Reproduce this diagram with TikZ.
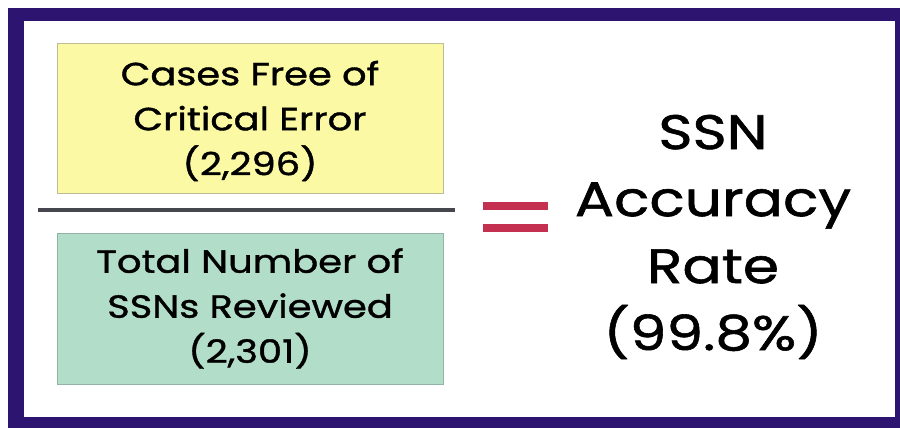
\documentclass[tikz,border=0pt]{standalone}
\usepackage{fontspec}
\setmainfont{Poppins}[FakeStretch=1.2, FakeBold=1.2]
\definecolor{framepurple}{HTML}{2D1470}
\definecolor{boxyellow}{HTML}{FBF9A3}
\definecolor{boxyellowedge}{HTML}{BDBC94}
\definecolor{boxgreen}{HTML}{B2DDC8}
\definecolor{boxgreenedge}{HTML}{93B3A4}
\definecolor{barline}{HTML}{46464F}
\definecolor{eqred}{HTML}{C4304F}
\tikzset{
  databox/.style={draw, line width=0.8pt, minimum width=386pt, inner sep=0pt},
  boxtext/.style={align=center, inner sep=0pt, font=\fontsize{32}{45}\selectfont},
  ratetext/.style={align=center, inner sep=0pt, font=\fontsize{48.5}{67}\selectfont}
}
\begin{document}
\begin{tikzpicture}[x=1pt,y=-1pt]
\useasboundingbox (0,0) rectangle (900,428);
\fill[white] (0,0) rectangle (900,428);
\fill[framepurple] (8,8) rectangle (900,428);
\fill[white] (24,21) rectangle (895,417);
% numerator
\node[databox, fill=boxyellow, draw=boxyellowedge, minimum height=150pt] (num) at (250,118) {};
\node[boxtext] (numtext) at ([yshift=-3pt]num.center) {Cases Free of\\Critical Error\\(2,296)};
% denominator
\node[databox, fill=boxgreen, draw=boxgreenedge, minimum height=151pt] (den) at (250,308.5) {};
\node[boxtext] (dentext) at (den.center) {Total Number of\\SSNs Reviewed\\(2,301)};
% fraction bar
\coordinate (barL) at (38,210);
\coordinate (barR) at (455,210);
\draw[barline, line width=4pt] (barL) -- (barR);
% equals sign
\fill[eqred] (483,202) rectangle (548,210);
\fill[eqred] (483,224) rectangle (548,232);
% result
\node[ratetext] (rate) at (713,237)
  {SSN\\Accuracy\\Rate\\(99.8\%)};
\end{tikzpicture}
\end{document}
